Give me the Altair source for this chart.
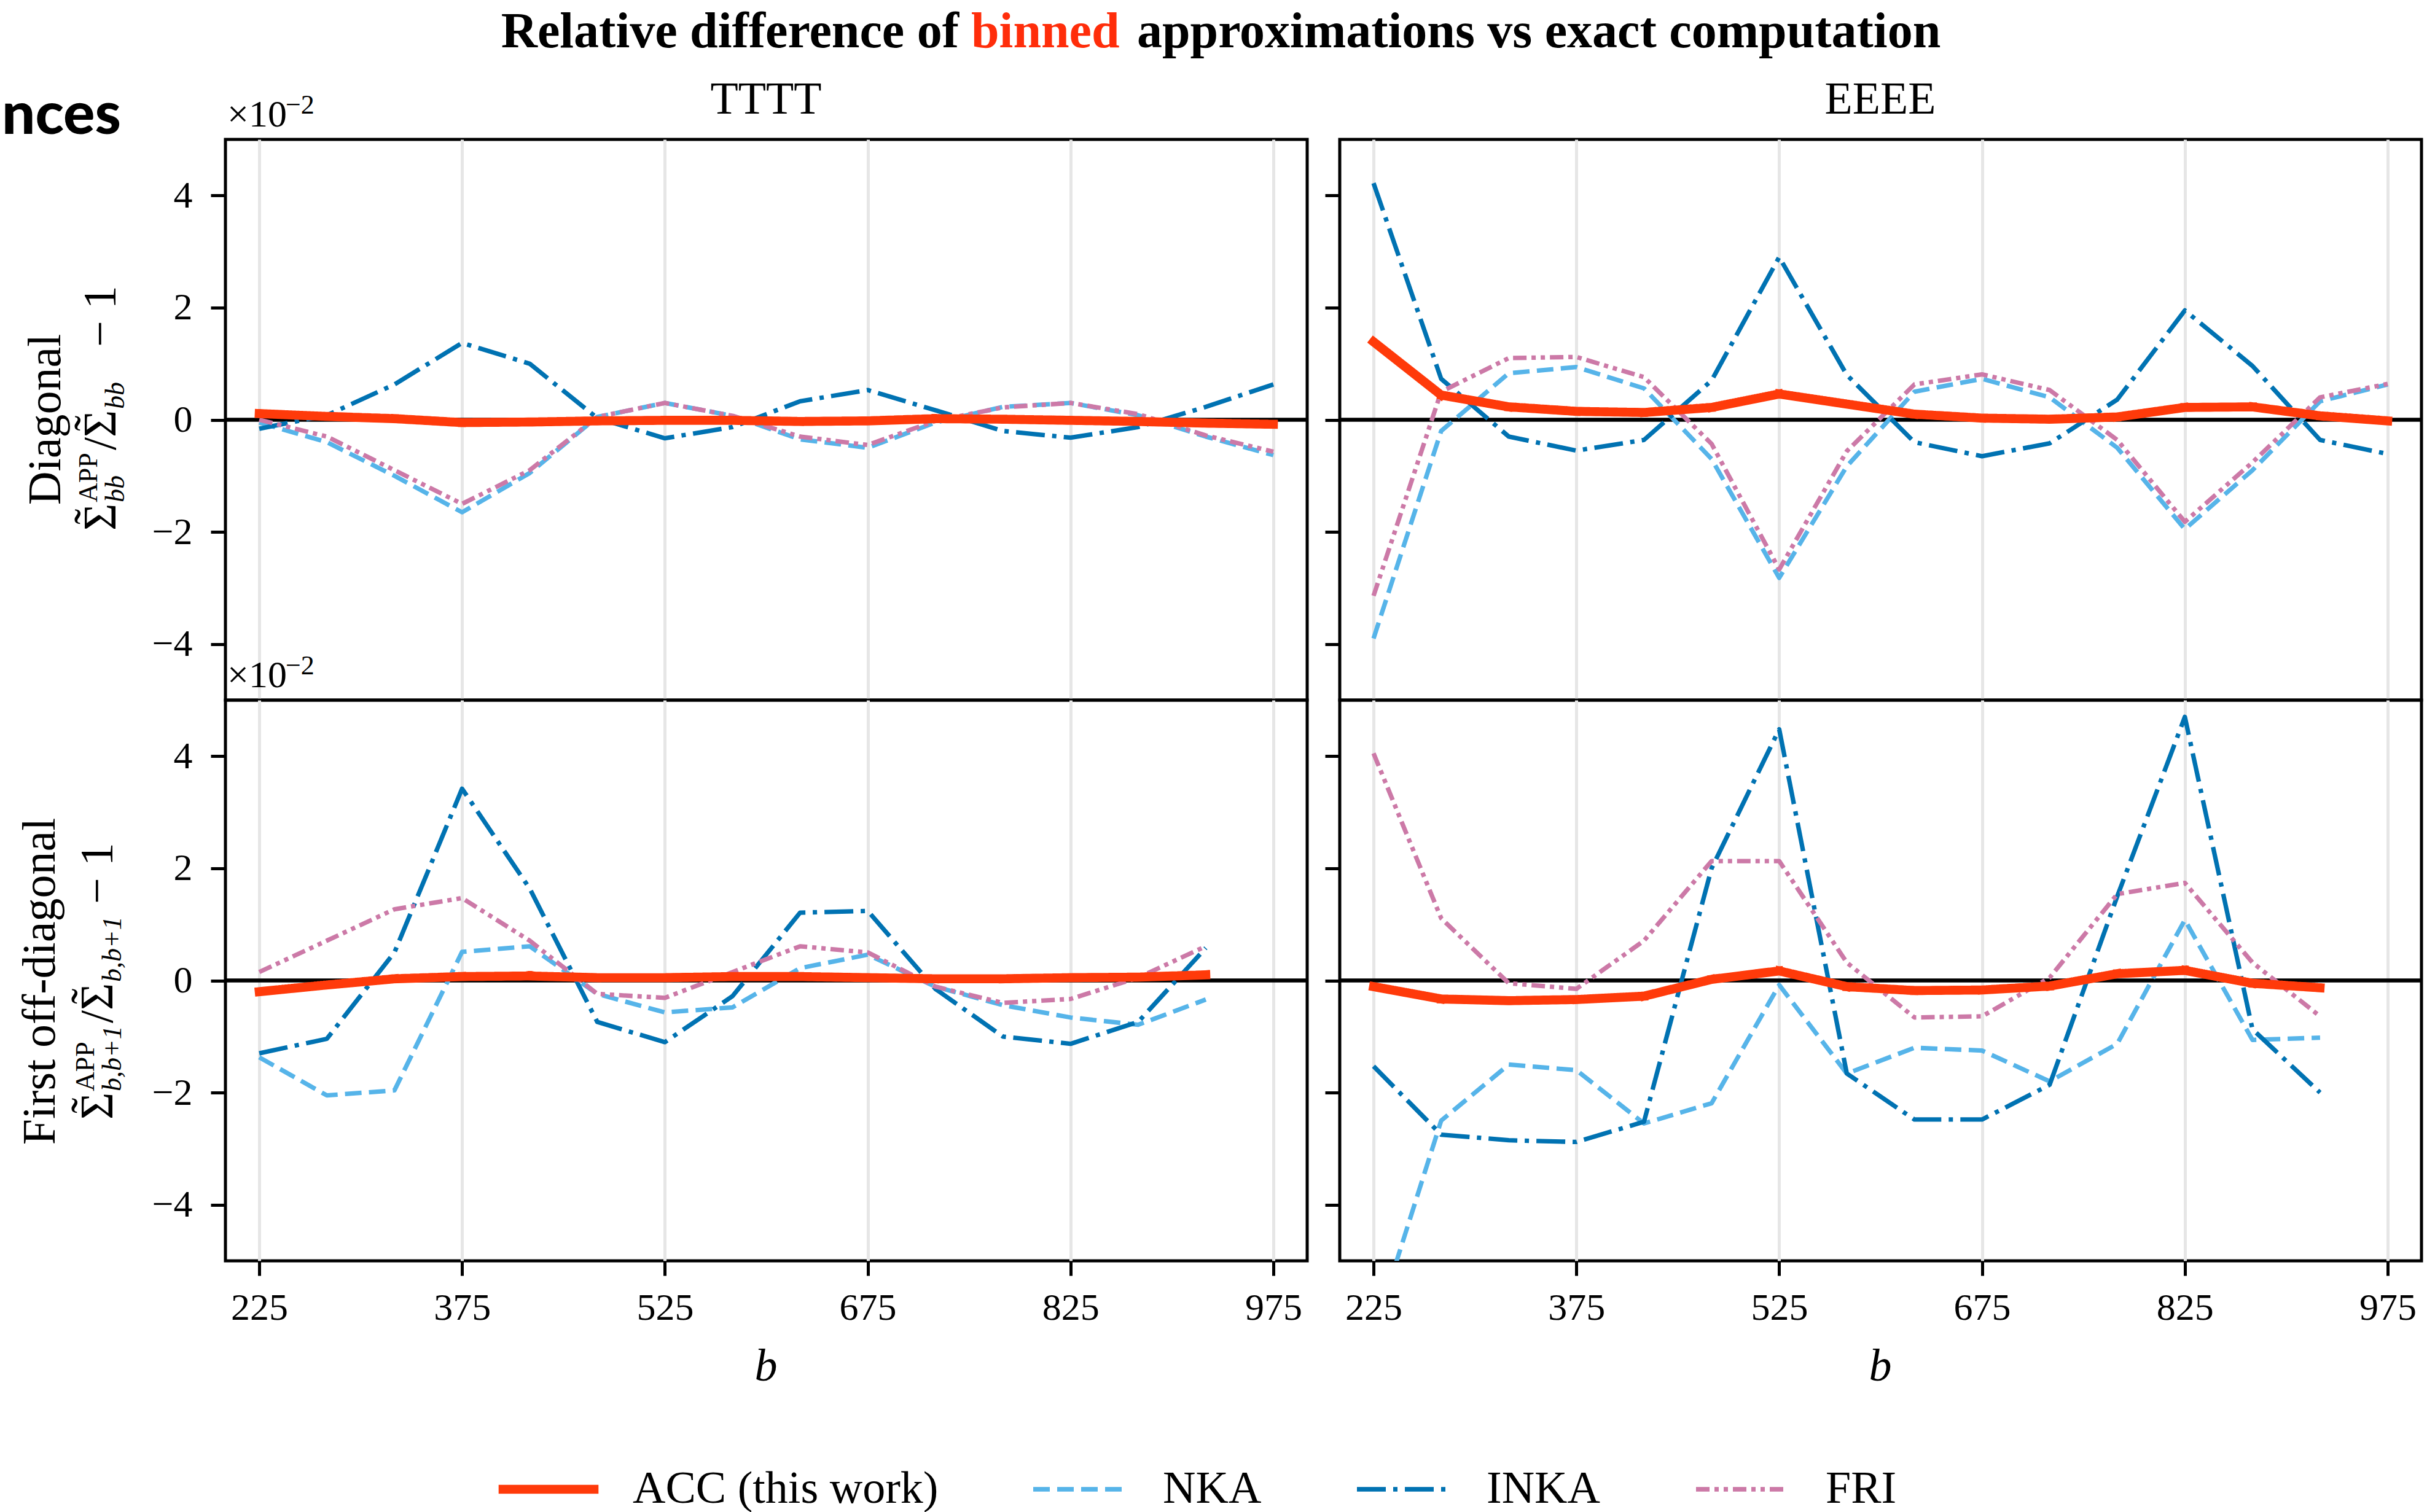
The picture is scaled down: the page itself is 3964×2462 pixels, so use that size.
import altair as alt
import pandas as pd

# ---------------- data ----------------
B_DIAG = [225, 275, 325, 375, 425, 475, 525, 575, 625, 675, 725, 775, 825, 875, 925, 975]
B_OFF = [225, 275, 325, 375, 425, 475, 525, 575, 625, 675, 725, 775, 825, 875, 925]
X_TICKS = [225, 375, 525, 675, 825, 975]
Y_TICKS = [-4, -2, 0, 2, 4]
METHODS = ["ACC (this work)", "NKA", "INKA", "FRI"]
COLORS = ["#FF3A0A", "#56B4E9", "#0072B2", "#CC79A7"]
DASHES = [[1, 0], [27, 12], [47, 12, 7, 12], [22, 8, 7, 8, 7, 8]]
WIDTHS = [14.6, 7.3, 7.3, 7.3]

# TTTT, diagonal (units of 1e-2)
TT_D_ACC = [0.11, 0.06, 0.02, -0.05, -0.04, -0.02, -0.01, -0.01, -0.03, -0.02, 0.02, 0.01, -0.01, -0.03, -0.06, -0.08]
TT_D_NKA = [-0.05, -0.4, -1.0, -1.65, -0.95, 0.05, 0.3, 0.07, -0.35, -0.5, -0.05, 0.23, 0.3, 0.08, -0.3, -0.63]
TT_D_INKA = [-0.16, 0.08, 0.63, 1.37, 1.0, 0.03, -0.33, -0.13, 0.33, 0.53, 0.17, -0.2, -0.32, -0.13, 0.23, 0.63]
TT_D_FRI = [0.0, -0.3, -0.9, -1.5, -0.9, 0.05, 0.3, 0.07, -0.3, -0.45, -0.02, 0.22, 0.3, 0.1, -0.28, -0.57]

# EEEE, diagonal
EE_D_ACC = [1.39, 0.44, 0.23, 0.15, 0.13, 0.22, 0.46, 0.28, 0.1, 0.03, 0.01, 0.05, 0.22, 0.23, 0.07, -0.02]
EE_D_NKA = [-3.9, -0.2, 0.83, 0.94, 0.56, -0.7, -2.82, -0.83, 0.5, 0.73, 0.4, -0.5, -1.95, -0.9, 0.33, 0.63]
EE_D_INKA = [4.22, 0.73, -0.3, -0.55, -0.36, 0.7, 2.9, 0.8, -0.4, -0.65, -0.42, 0.36, 1.95, 0.96, -0.36, -0.61]
EE_D_FRI = [-3.14, 0.5, 1.1, 1.12, 0.76, -0.43, -2.67, -0.56, 0.63, 0.81, 0.53, -0.36, -1.82, -0.76, 0.4, 0.64]

# TTTT, first off-diagonal
TT_O_ACC = [-0.2, -0.08, 0.03, 0.07, 0.08, 0.05, 0.05, 0.07, 0.07, 0.05, 0.03, 0.03, 0.05, 0.06, 0.1]
TT_O_NKA = [-1.37, -2.05, -1.96, 0.51, 0.61, -0.24, -0.57, -0.48, 0.22, 0.46, -0.11, -0.44, -0.66, -0.79, -0.34]
TT_O_INKA = [-1.3, -1.04, 0.5, 3.42, 1.64, -0.74, -1.1, -0.28, 1.21, 1.24, -0.15, -1.0, -1.13, -0.74, 0.58]
TT_O_FRI = [0.15, 0.71, 1.27, 1.47, 0.71, -0.24, -0.31, 0.15, 0.61, 0.5, -0.11, -0.4, -0.33, 0.05, 0.61]

# EEEE, first off-diagonal
EE_O_ACC = [-0.11, -0.33, -0.36, -0.34, -0.28, 0.02, 0.17, -0.11, -0.18, -0.17, -0.1, 0.12, 0.18, -0.05, -0.13]
EE_O_NKA = [-6.3, -2.5, -1.5, -1.6, -2.55, -2.19, -0.08, -1.66, -1.2, -1.25, -1.8, -1.13, 1.08, -1.06, -1.02]
EE_O_INKA = [-1.53, -2.75, -2.85, -2.88, -2.52, 2.0, 4.48, -1.66, -2.48, -2.48, -1.86, 1.5, 4.7, -0.87, -2.0]
EE_O_FRI = [4.05, 1.11, -0.05, -0.15, 0.71, 2.13, 2.13, 0.32, -0.66, -0.64, 0.05, 1.54, 1.74, 0.32, -0.64]

SERIF = "Liberation Serif"
W, H = 1761, 913
ONE = pd.DataFrame({"k": [0]})


def series_df(b, acc, nka, inka, fri):
    rows = []
    for m, vals in zip(METHODS, [acc, nka, inka, fri]):
        for bi, v in zip(b, vals):
            rows.append({"b": bi, "value": v, "method": m})
    return pd.DataFrame(rows)


def txt(text, x, y, size, align="left", angle=0, dx=0, dy=0, weight="normal",
        style="normal", color="black", font=SERIF, baseline="alphabetic"):
    return alt.Chart(ONE).mark_text(
        text=text, font=font, fontSize=size, align=align, baseline=baseline,
        angle=angle, dx=dx, dy=dy, fontWeight=weight, fontStyle=style, color=color,
    ).encode(x=alt.value(x), y=alt.value(y))


def panel(df, top, left, extras):
    x_axis = alt.Axis(
        values=X_TICKS, title=None, domain=False, grid=True, gridColor="#e6e6e6",
        gridWidth=5, labels=not top, labelFlush=False, labelOverlap=False,
        tickSize=24, tickWidth=4 if top else 5,
        tickColor="#666666" if top else "black", labelFont=SERIF,
        labelFontSize=62, labelPadding=22, labelColor="black", format="d",
    )
    y_axis = alt.Axis(
        values=Y_TICKS, title=None, domain=False, grid=False, labels=left,
        tickSize=24, tickWidth=5, tickColor="black", labelFont=SERIF,
        labelFontSize=62, labelPadding=30, labelColor="black", format="d",
    )
    xs = alt.Scale(domain=[200, 1000], nice=False, zero=False)
    ys = alt.Scale(domain=[-5, 5], nice=False, zero=False)
    base = alt.Chart(df).encode(
        x=alt.X("b:Q", scale=xs, axis=x_axis),
        y=alt.Y("value:Q", scale=ys, axis=y_axis),
        color=alt.Color("method:N", scale=alt.Scale(domain=METHODS, range=COLORS), legend=None),
        strokeDash=alt.StrokeDash("method:N", scale=alt.Scale(domain=METHODS, range=DASHES), legend=None),
    )
    zero = alt.Chart(ONE).mark_rule(color="black", strokeWidth=6.5).encode(
        y=alt.YDatum(0, scale=ys, axis=y_axis)
    )
    others = base.transform_filter(alt.datum.method != METHODS[0]).mark_line(
        clip=True, strokeWidth=WIDTHS[1], strokeCap="butt", strokeJoin="round")
    acc = base.transform_filter(alt.datum.method == METHODS[0]).mark_line(
        clip=True, strokeWidth=WIDTHS[0], strokeCap="square", strokeJoin="round")
    return alt.layer(zero, others, acc, *extras).properties(width=W, height=H)


def sigma_tilde(x, y0, d):
    return [
        txt("\u03a3", x, y0, 76, angle=270, dx=d),
        txt("\u02dc", x, y0, 76, angle=270, dx=d + 10, dy=-15),
    ]


def math_label(x, y0, sub, sub_w):
    s2 = 46 + sub_w + 25
    out = sigma_tilde(x, y0, 0) + sigma_tilde(x, y0, s2)
    pieces = [
        ("APP", 46, -30, 44, "normal"),
        (sub, 46, 14, 44, "italic"),
        ("/", 46 + sub_w + 4, 0, 76, "normal"),
        (sub, s2 + 46, 14, 44, "italic"),
        ("\u2212 1", s2 + 46 + sub_w + 20, 0, 76, "normal"),
    ]
    out += [txt(t, x, y0, s, angle=270, dx=d, dy=o, style=st) for t, d, o, s, st in pieces]
    return out


def offset_label():
    return [txt("\u00d710", 3, -21, 62), txt("\u22122", 98, -42, 44)]


def legend_marks():
    # hand-drawn legend below the panels (relative to bottom-left panel)
    starts = [452, 1315, 1842, 2394]
    caps = ["square", "butt", "butt", "butt"]
    marks = []
    for m, c, d, w, s, cap in zip(METHODS, COLORS, DASHES, WIDTHS, starts, caps):
        marks.append(
            alt.Chart(ONE).mark_rule(color=c, strokeDash=d, strokeWidth=w, strokeCap=cap)
            .encode(x=alt.value(s), x2=alt.value(s + 148), y=alt.value(1285))
        )
        marks.append(txt(m, s + 211, 1285, 74, baseline="middle"))
    return marks


tl_extra = [
    txt("nces", -364, -9, 96, weight=900, font="Lato"),
    txt("Relative difference of", 1194, -150, 82, align="right", weight="bold"),
    txt("binned", 1214, -150, 82, weight="bold", color="#FF2D0A"),
    txt("approximations vs exact computation", 1484, -150, 82, weight="bold"),
    txt("TTTT", 880, -42, 74, align="center"),
    txt("Diagonal", -269, 456, 76, align="center", angle=270),
] + offset_label() + math_label(-179, 637, "bb", 81)

tr_extra = [txt("EEEE", 880, -42, 74, align="center")]

bl_extra = [
    txt("b", 880, 1108, 74, align="center", style="italic"),
    txt("First off-diagonal", -278, 458, 76, align="center", angle=270),
] + offset_label() + math_label(-184, 683, "b,b+1", 107) + legend_marks()

br_extra = [txt("b", 880, 1108, 74, align="center", style="italic")]

TL = panel(series_df(B_DIAG, TT_D_ACC, TT_D_NKA, TT_D_INKA, TT_D_FRI), True, True, tl_extra)
TR = panel(series_df(B_DIAG, EE_D_ACC, EE_D_NKA, EE_D_INKA, EE_D_FRI), True, False, tr_extra)
BL = panel(series_df(B_OFF, TT_O_ACC, TT_O_NKA, TT_O_INKA, TT_O_FRI), False, True, bl_extra)
BR = panel(series_df(B_OFF, EE_O_ACC, EE_O_NKA, EE_O_INKA, EE_O_FRI), False, False, br_extra)

chart = (
    alt.concat(TL, TR, BL, BR, columns=2, spacing={"row": 0, "column": 53}, bounds="flush")
    .properties(padding={"left": 0, "top": 8, "right": 5, "bottom": 5}, background="white")
    .configure_view(stroke="black", strokeWidth=5)
)

chart.save("out.html", embed_options={"renderer": "svg", "actions": False})
